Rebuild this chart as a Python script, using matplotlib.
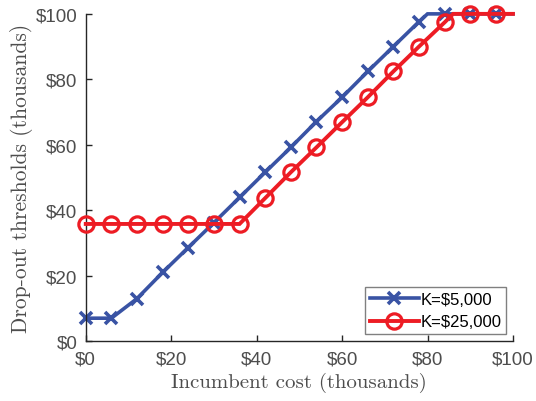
import matplotlib
matplotlib.use("Agg")
import matplotlib.pyplot as plt

# Blue series, K = $5,000 (kinks at 6 and 80)
x_k5 = [0, 6, 12, 18, 24, 30, 36, 42, 48, 54, 60, 66, 72, 78, 80, 84, 90, 96, 100]
y_k5 = [7, 7, 13, 21, 28.6, 36.2, 43.9, 51.6, 59.2, 67.1, 74.5, 82.4, 90, 97.6, 100, 100, 100, 100, 100]

# Red series, K = $25,000 (kinks at 36 and 86)
x_k25 = [0, 6, 12, 18, 24, 30, 36, 42, 48, 54, 60, 66, 72, 78, 84, 86, 90, 96, 100]
y_k25 = [35.8, 35.8, 35.8, 35.8, 35.8, 35.8, 35.8, 43.7, 51.6, 59.2, 66.9, 74.5, 82.4, 90, 97.4, 100, 100, 100, 100]

labels = ["K=$5,000", "K=$25,000"]
ticks = [0, 20, 40, 60, 80, 100]
tick_labels = ["$0", "$20", "$40", "$60", "$80", "$100"]

# markers only every 6 thousand
marker_x = [0, 6, 12, 18, 24, 30, 36, 42, 48, 54, 60, 66, 72, 78, 84, 90, 96]

plt.rcParams['font.family'] = ['Liberation Sans', 'DejaVu Sans']
plt.rcParams['text.parse_math'] = False

fig = plt.figure(figsize=(5.36, 4.02), dpi=100)
ax = fig.add_axes([0.160, 0.149, 0.797, 0.814])

mk5 = [i for i, v in enumerate(x_k5) if v in marker_x]
mk25 = [i for i, v in enumerate(x_k25) if v in marker_x]

ax.plot(x_k5, y_k5, color='#3953a4', lw=2.6, marker='x', ms=8, mew=2.6,
        markevery=mk5, label=labels[0], zorder=2, clip_on=False,
        solid_joinstyle='miter')
ax.plot(x_k25, y_k25, color='#ed1c24', lw=2.8, marker='o', ms=11, mew=2.3,
        mfc='none', markevery=mk25, label=labels[1], zorder=3, clip_on=False,
        solid_joinstyle='miter')

ax.set_xlim(0, 100)
ax.set_ylim(0, 100)
ax.set_xticks(ticks)
ax.set_xticklabels(tick_labels)
ax.set_yticks(ticks)
ax.set_yticklabels(tick_labels)
ax.tick_params(direction='in', length=4, labelsize=13.5, colors='#262626',
               labelcolor='#4d4d4d', width=1)
ax.tick_params(axis='x', pad=7)
ax.tick_params(axis='y', pad=6)
for s in ['top', 'right']:
    ax.spines[s].set_visible(False)
for s in ['left', 'bottom']:
    ax.spines[s].set_color('#262626')
    ax.spines[s].set_linewidth(1)

ax.set_xlabel("Incumbent cost (thousands)", family='cmr10', fontsize=15,
              color='#4d4d4d', labelpad=3)
ax.set_ylabel("Drop-out thresholds (thousands)", family='cmr10', fontsize=15.5,
              color='#4d4d4d', labelpad=2)

leg = ax.legend(loc='lower right', fontsize=12, handlelength=2.9,
                handletextpad=0.1, borderpad=0.3, labelspacing=0.45,
                fancybox=False, framealpha=1, borderaxespad=0.4)
leg.get_frame().set_edgecolor('#808080')
leg.get_frame().set_linewidth(1)

fig.savefig("out.png", dpi=100)
